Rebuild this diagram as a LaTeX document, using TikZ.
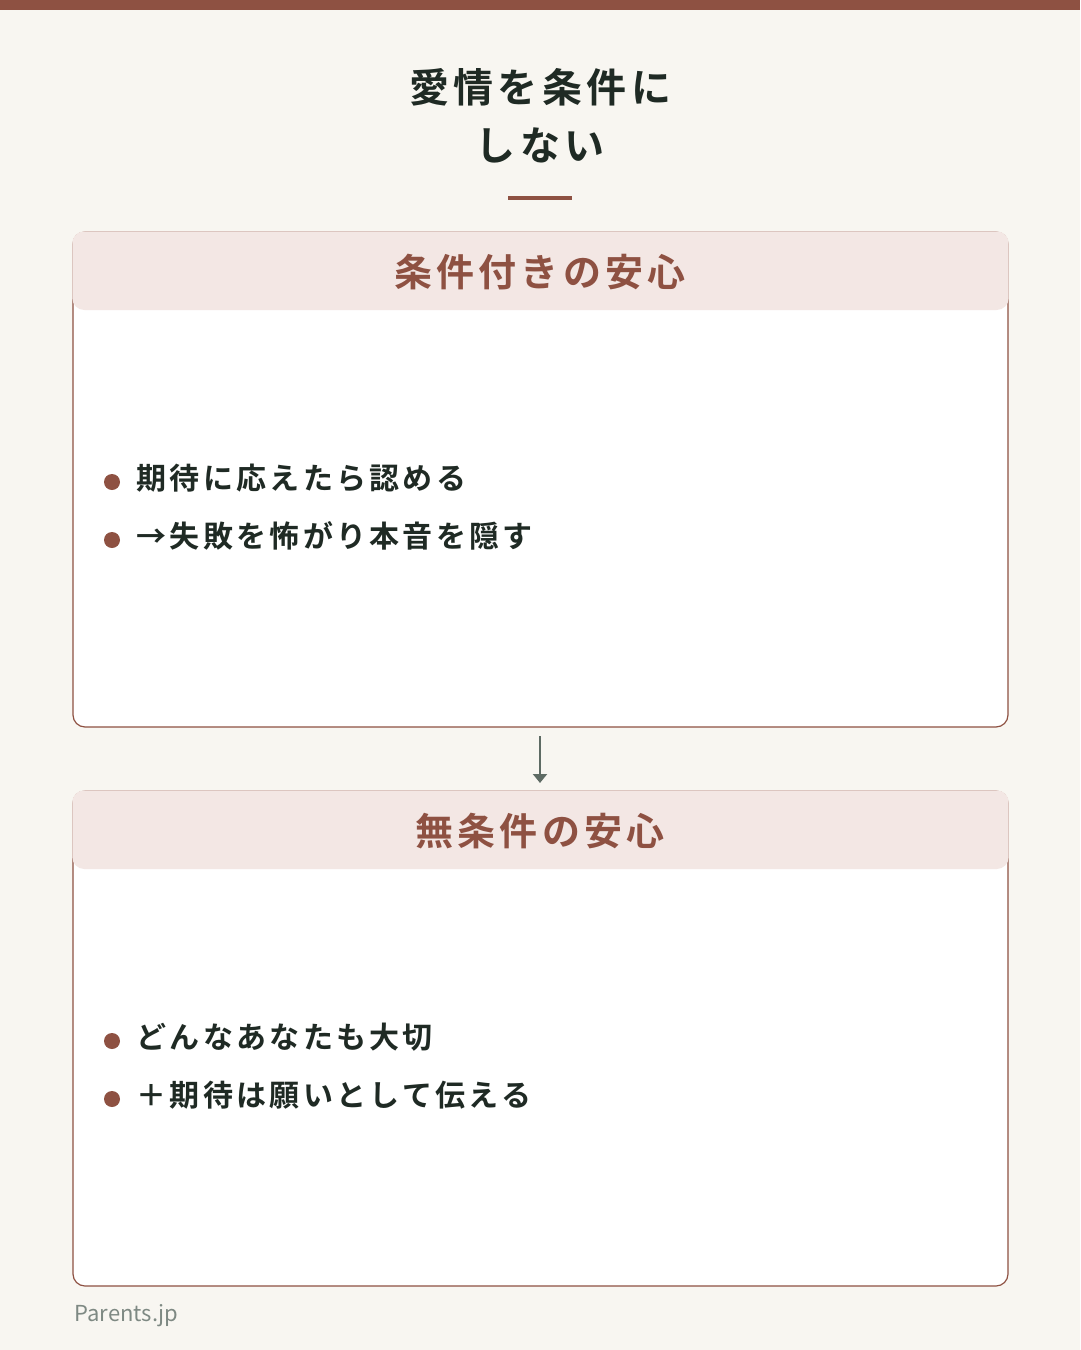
\documentclass[tikz,border=0pt]{standalone}
\usepackage{fontspec}
\usetikzlibrary{arrows.meta}
\setmainfont{Noto Sans CJK JP}[BoldFont={* Bold}]
\newfontfamily\spc{Noto Sans CJK JP}[BoldFont={* Bold},LetterSpace=11]
\definecolor{bg}{HTML}{F8F6F1}
\definecolor{br}{HTML}{8E5142}
\definecolor{hd}{HTML}{F3E7E4}
\definecolor{dk}{HTML}{1F2A24}
\definecolor{gr}{HTML}{5E6B64}
\begin{document}
\begin{tikzpicture}[x=1pt,y=-1pt,
 card/.style={draw=br,line width=1.2pt,fill=white,rounded corners=12pt},
 head/.style={fill=hd,rounded corners=12pt},
 htxt/.style={text=br,font=\spc\fontsize{38}{44}\selectfont\bfseries},
 item/.style={anchor=west,text=dk,font=\spc\fontsize{30}{36}\selectfont\bfseries},
 dot/.style={circle,fill=br,inner sep=0pt,minimum size=16pt}]
\fill[bg] (0,0) rectangle (1080,1350);
\useasboundingbox (0,0) rectangle (1080,1350);
\fill[br] (0,0) rectangle (1080,10);
\node[text=dk,font=\spc\fontsize{40}{58}\selectfont\bfseries,align=center] (title) at (540,116) {愛情を条件に\\しない};
\draw[br,line width=4pt] (508,198) -- (572,198);
% card 1
\draw[card] (73,232) rectangle (1008,727);
\fill[head] (72.3,231.3) rectangle (1008.7,310);
\node[htxt] (h1) at (540,272) {条件付きの安心};
\node[dot] (d1) at (112,482) {};
\node[item] (t1) at (133,478) {期待に応えたら認める};
\node[dot] (d2) at (112,540) {};
\node[item] (t2) at (133,536) {→失敗を怖がり本音を隠す};
% card 2
\draw[card] (73,791) rectangle (1008,1286);
\fill[head] (72.3,790.3) rectangle (1008.7,869);
\node[htxt] (h2) at (540,831) {無条件の安心};
\node[dot] (d3) at (112,1041) {};
\node[item] (t3) at (133,1037) {どんなあなたも大切};
\node[dot] (d4) at (112,1099) {};
\node[item] (t4) at (133,1095) {＋期待は願いとして伝える};
\coordinate (a1) at (540,736);
\coordinate (a2) at (540,783);
\draw[gr,line width=2pt,-{Triangle[width=14pt,length=9pt]}] (a1) -- (a2);
\node[anchor=west,text=gr!80,font=\fontsize{22}{26}\selectfont] (ft) at (71,1316) {Parents.jp};
\end{tikzpicture}
\end{document}
